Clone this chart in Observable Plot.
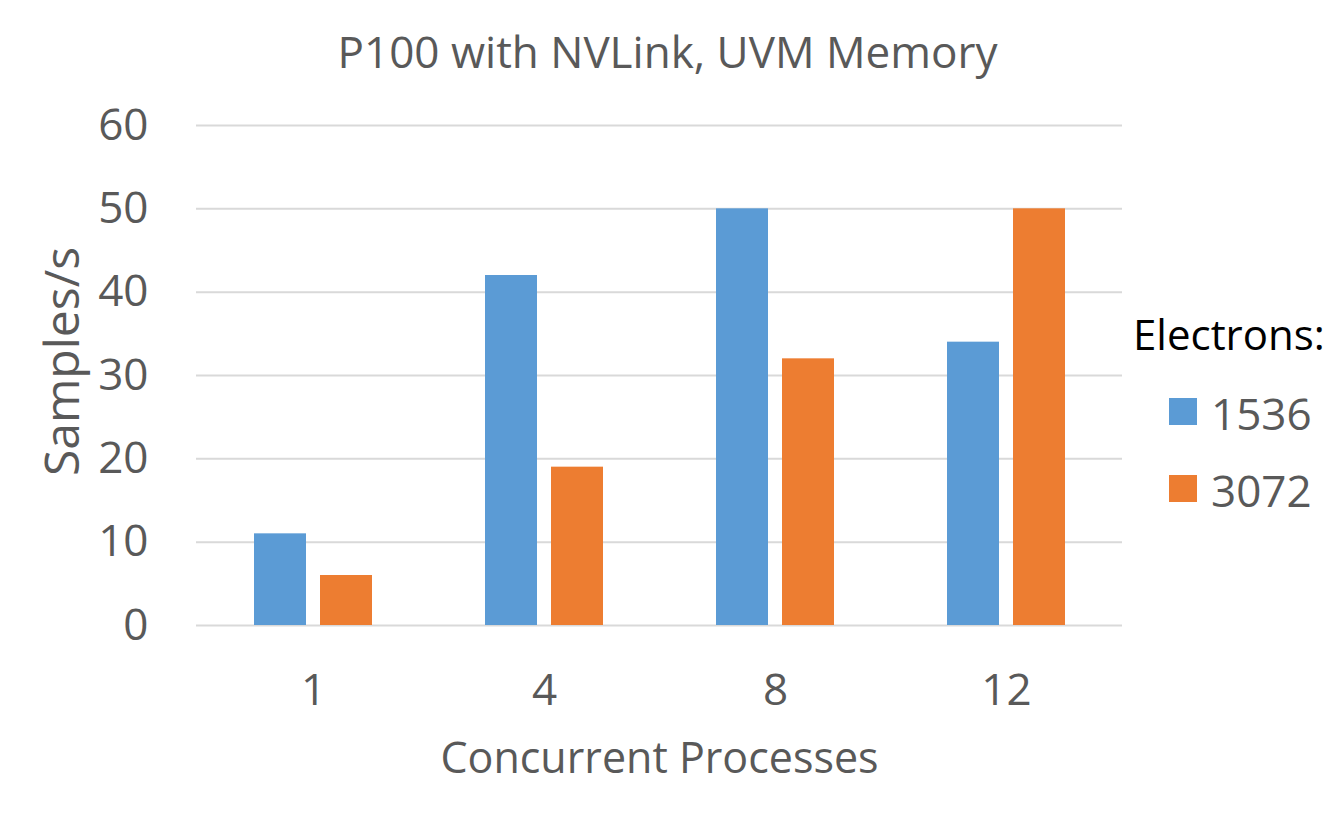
<!DOCTYPE html>
<html>
<head>
<meta charset="utf-8">
<script src="https://cdn.jsdelivr.net/npm/d3@7"></script>
<script src="https://cdn.jsdelivr.net/npm/@observablehq/plot@0.6"></script>
<style>
  html, body { margin: 0; padding: 0; background: #fff; }
  #wrap { position: relative; width: 1339px; height: 816px; font-family: "Open Sans", sans-serif; }
  #wrap svg { position: absolute; left: 0; top: 0; }
  .abs { position: absolute; white-space: nowrap; line-height: 1; }
  .sw { position: absolute; width: 28px; height: 27px; }
</style>
</head>
<body>
<div id="wrap"></div>
<script>
const title = "P100 with NVLink, UVM Memory";
const xTitle = "Concurrent Processes";
const yTitle = "Samples/s";
const legendTitle = "Electrons:";
const processes = ["1", "4", "8", "12"];
const seriesNames = ["1536", "3072"];
const seriesColors = ["#5B9BD5", "#ED7D31"];
const values1536 = [11, 42, 50, 34];
const values3072 = [6, 19, 32, 50];
const yTicks = [0, 10, 20, 30, 40, 50, 60];

const d1536 = processes.map((p, i) => ({process: p, value: values1536[i]}));
const d3072 = processes.map((p, i) => ({process: p, value: values3072[i]}));

const textColor = "#595959";

const chart = Plot.plot({
  width: 1339,
  height: 816,
  marginTop: 125,
  marginBottom: 191,
  marginLeft: 196,
  marginRight: 217,
  style: {fontFamily: "Open Sans, sans-serif", fontSize: "44px", color: textColor, background: "transparent"},
  x: {domain: processes, paddingInner: 0.49, paddingOuter: 0.245, tickSize: 0, tickPadding: 48, label: null},
  y: {domain: [0, 60], ticks: yTicks, tickSize: 0, tickPadding: 48, label: null},
  marks: [
    Plot.ruleY(yTicks, {stroke: "#d9d9d9", strokeWidth: 2}),
    Plot.barY(d1536, {x: "process", y: "value", fill: seriesColors[0], insetRight: 66}),
    Plot.barY(d3072, {x: "process", y: "value", fill: seriesColors[1], insetLeft: 66}),
    Plot.text([xTitle], {frameAnchor: "bottom", dy: 147, lineAnchor: "bottom", textAnchor: "middle", fill: textColor, fontSize: 43}),
    Plot.text([yTitle], {frameAnchor: "left", dx: -118, dy: -14, rotate: -90, lineAnchor: "bottom", textAnchor: "middle", fill: textColor, fontSize: 48}),
    Plot.text([title], {frameAnchor: "top", dx: 8, dy: -58, lineAnchor: "bottom", textAnchor: "middle", fill: textColor, fontSize: 44})
  ]
});

const wrap = document.getElementById("wrap");
wrap.appendChild(chart);

// Legend (HTML)
const lt = document.createElement("div");
lt.className = "abs";
lt.textContent = legendTitle;
lt.style.cssText += "left:1133px;top:313px;font-size:42px;color:#000;";
wrap.appendChild(lt);

const legTops = [391, 468];
const swTops = [398, 475];
seriesNames.forEach((name, i) => {
  const sw = document.createElement("div");
  sw.className = "sw";
  sw.style.left = "1169px";
  sw.style.top = swTops[i] + "px";
  sw.style.background = seriesColors[i];
  wrap.appendChild(sw);
  const lab = document.createElement("div");
  lab.className = "abs";
  lab.textContent = name;
  lab.style.cssText += `left:1211px;top:${legTops[i]}px;font-size:44px;color:${textColor};`;
  wrap.appendChild(lab);
});
</script>
</body>
</html>
